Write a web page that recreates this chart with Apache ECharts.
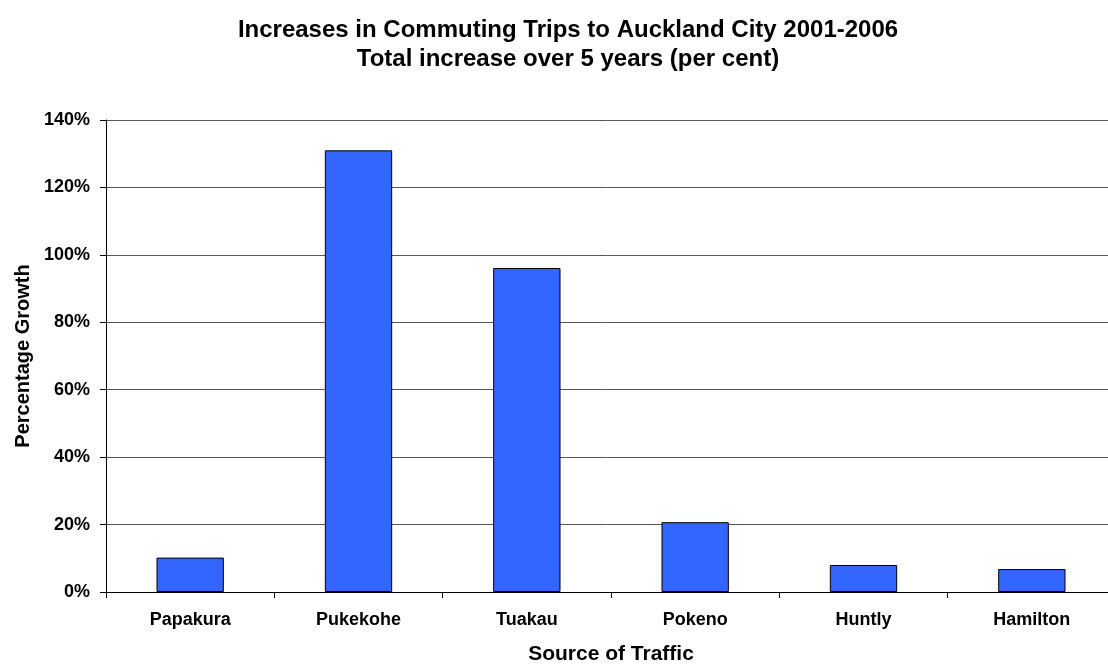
<!DOCTYPE html>
<html>
<head>
<meta charset="utf-8">
<script src="https://cdn.jsdelivr.net/npm/echarts@6/dist/echarts.min.js"></script>
<style>
  html, body { margin: 0; padding: 0; background: #fff; }
  #chart { width: 1108px; height: 664px; }
</style>
</head>
<body>
<div id="chart"></div>
<script>
// source towns and growth over 2001-2006 (per cent)
const towns = ["Papakura", "Pukekohe", "Tuakau", "Pokeno", "Huntly", "Hamilton"];
const growth = [10.2, 131, 96.1, 20.7, 8.0, 6.8];

const font = "'Liberation Sans', Arial, sans-serif";

let myChart = echarts.init(document.getElementById("chart"));
myChart.setOption({
  animation: false,
  backgroundColor: "#fff",
  title: {
    text: "Increases in Commuting Trips to Auckland City 2001-2006\nTotal increase over 5 years (per cent)",
    left: 563,
    textAlign: "center",
    top: 11,
    textStyle: {
      fontFamily: font,
      fontWeight: "bold",
      fontSize: 24,
      lineHeight: 29,
      color: "#000",
    },
  },
  grid: {
    left: 106,
    top: 120,
    width: 1010,
    height: 472,
    outerBoundsMode: "none",
    containLabel: false,
  },
  xAxis: {
    type: "category",
    data: towns,
    name: "Source of Traffic",
    nameLocation: "middle",
    nameGap: 52,
    nameTextStyle: { fontFamily: font, fontWeight: "bold", fontSize: 21, color: "#000" },
    axisLine: { lineStyle: { color: "#000", width: 1 } },
    axisTick: { show: true, length: 6, lineStyle: { color: "#000" } },
    axisLabel: {
      fontFamily: font,
      fontWeight: "bold",
      fontSize: 18,
      color: "#000",
      margin: 19,
    },
  },
  yAxis: {
    type: "value",
    min: 0,
    max: 140,
    interval: 20,
    name: "Percentage Growth",
    nameLocation: "middle",
    nameGap: 72,
    nameTextStyle: { fontFamily: font, fontWeight: "bold", fontSize: 20, color: "#000" },
    axisLine: { show: true, lineStyle: { color: "#000", width: 1 } },
    axisTick: { show: true, length: 6, lineStyle: { color: "#000" } },
    axisLabel: {
      fontFamily: font,
      fontWeight: "bold",
      fontSize: 18,
      color: "#000",
      margin: 16,
      formatter: "{value}%",
    },
    splitLine: { lineStyle: { color: "#555", width: 1 } },
  },
  series: [
    {
      name: "Growth",
      type: "bar",
      data: growth,
      barWidth: "40%",
      itemStyle: {
        color: "#3366FF",
        borderColor: "#000",
        borderWidth: 1,
      },
    },
  ],
});
</script>
</body>
</html>
